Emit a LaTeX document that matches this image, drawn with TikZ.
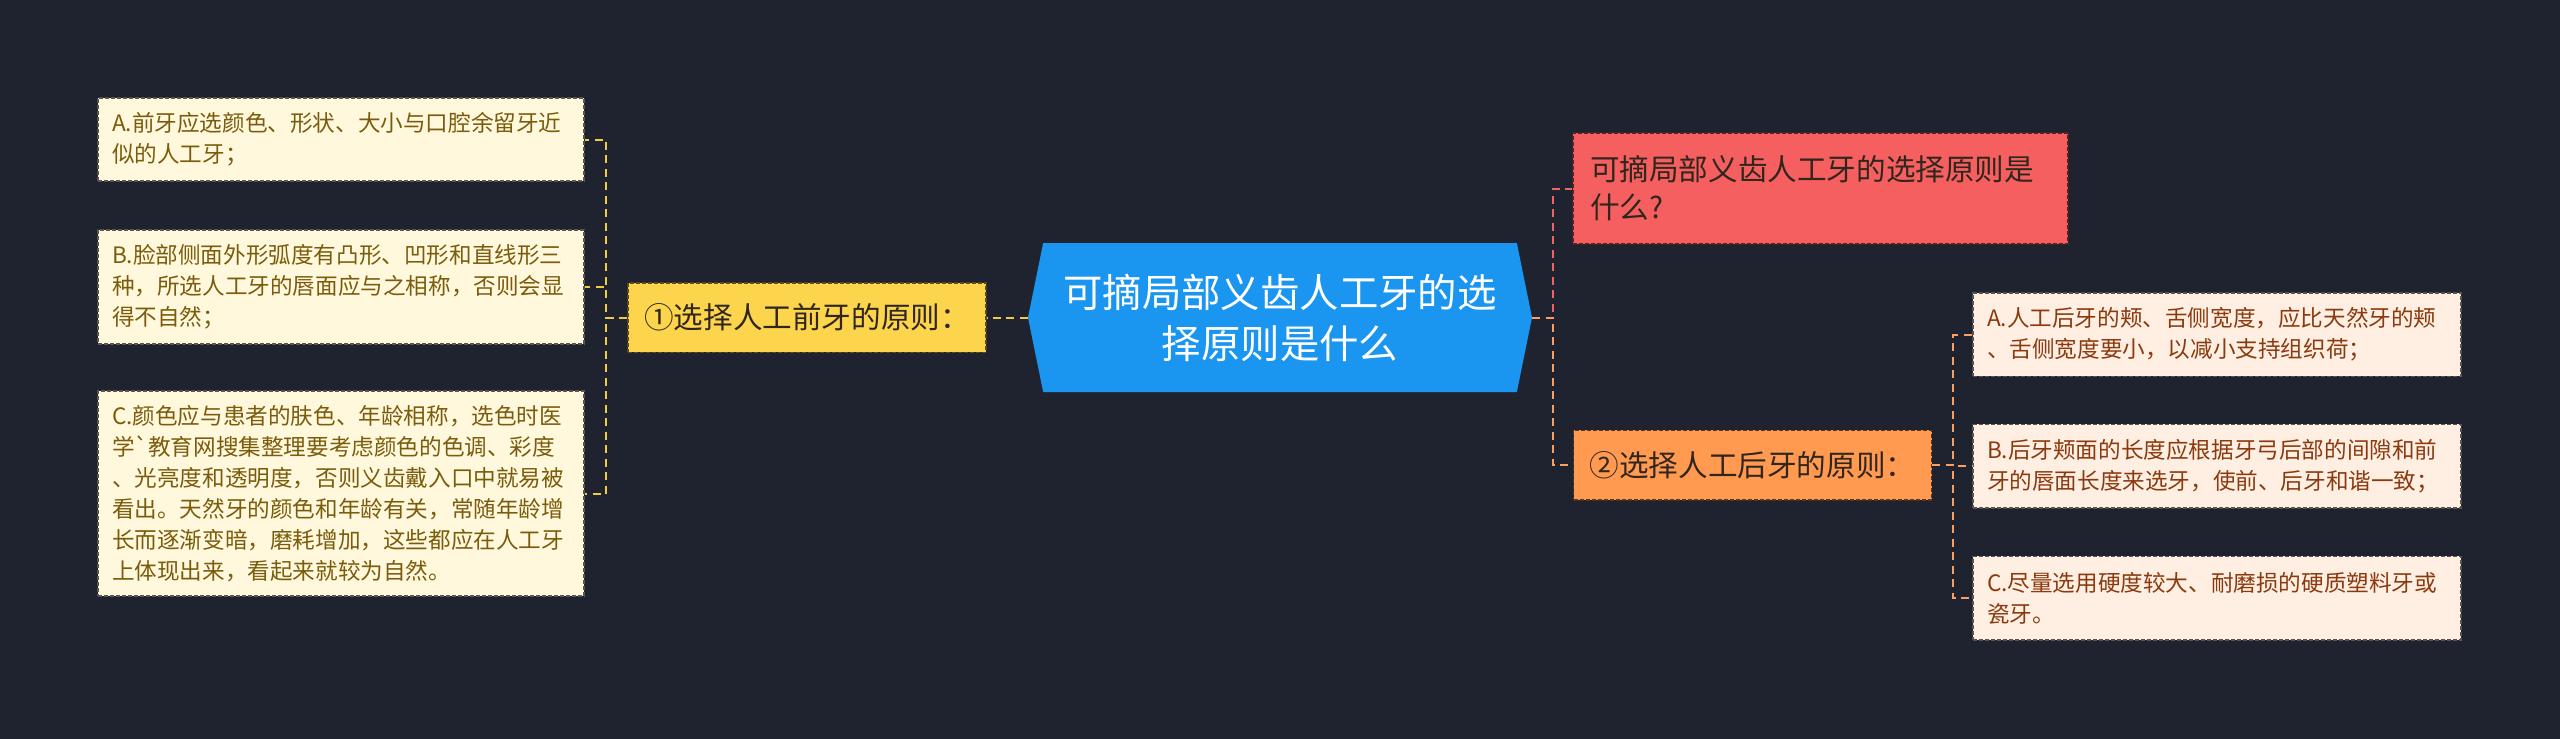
\documentclass[tikz,border=0pt]{standalone}
\usepackage{fontspec}
\setmainfont{Noto Sans CJK SC}[Ligatures=TeXOff]
\usetikzlibrary{shapes.symbols}

\definecolor{bgdark}{HTML}{1F2330}
\definecolor{leftfill}{HTML}{FFF8DC}
\definecolor{lefttext}{HTML}{7A5C0C}
\definecolor{leftline}{HTML}{F2CB45}
\definecolor{yelfill}{HTML}{FDD54D}
\definecolor{rootblue}{HTML}{1A96F0}
\definecolor{redfill}{HTML}{F55F5F}
\definecolor{redline}{HTML}{EE6464}
\definecolor{orgfill}{HTML}{FF9A50}
\definecolor{orgline}{HTML}{F7A062}
\definecolor{rightfill}{HTML}{FFEEE2}
\definecolor{righttext}{HTML}{8A3A0E}
\definecolor{darktext}{HTML}{30261E}

\begin{document}
\begin{tikzpicture}[x=0.5pt, y=-0.5pt,
	boxline/.style = {draw=#1!35!black, dash pattern=on 2pt off 1pt, line width=0.75pt},
	lbox/.style = {boxline=leftfill, fill=leftfill, text=lefttext, align=left,
		font=\fontsize{11.3}{15.5}\selectfont, text width=229pt, inner xsep=7pt, inner ysep=0pt, minimum height=#1},
	rbox/.style = {boxline=rightfill, fill=rightfill, text=righttext, align=left,
		font=\fontsize{11.3}{15.5}\selectfont, text width=230pt, inner xsep=7pt, inner ysep=0pt, minimum height=41.75pt},
	sub/.style = {boxline=#1, fill=#1, text=darktext, font=\fontsize{14.8}{19}\selectfont,
		minimum width=179pt, minimum height=34.75pt, inner sep=0pt},
	lline/.style = {leftline, line width=1pt, dash pattern=on 4pt off 2.75pt},
	rline/.style = {redline, line width=1pt, dash pattern=on 4pt off 2.75pt},
	oline/.style = {orgline, line width=1pt, dash pattern=on 4pt off 2.75pt}]
	\def\elbow{21}

	\fill[bgdark] (0, 0) rectangle (2560, 739);

	\node[signal, signal to=west and east, signal pointer angle=157, fill=rootblue, text=white,
		minimum width=252pt, minimum height=74.5pt, inner sep=0pt, align=center,
		font=\fontsize{19.7}{25.5}\selectfont] (root) at (1280, 317.5) {可摘局部义齿人工牙的选\\择原则是什么};

	\node[sub=yelfill] (front) at (807, 317.5) {①选择人工前牙的原则：};
	\node[lbox=41.5pt] (fa) at (341, 139.5) {A.前牙应选颜色、形状、大小与口腔余留牙近\\似的人工牙；};
	\node[lbox=57pt] (fb) at (341, 287) {B.脸部侧面外形弧度有凸形、凹形和直线形三\\种，所选人工牙的唇面应与之相称，否则会显\\得不自然；};
	\node[lbox=102.5pt] (fc) at (341, 493.5) {C.颜色应与患者的肤色、年龄相称，选色时医\\学`教育网搜集整理要考虑颜色的色调、彩度\\、光亮度和透明度，否则义齿戴入口中就易被\\看出。天然牙的颜色和年龄有关，常随年龄增\\长而逐渐变暗，磨耗增加，这些都应在人工牙\\上体现出来，看起来就较为自然。};

	\node[boxline=redfill, fill=redfill, text=darktext, align=left, font=\fontsize{14.8}{19}\selectfont,
		text width=230.5pt, inner xsep=8.5pt, inner ysep=0pt, minimum height=55.5pt] (q) at (1820.5, 188.5) {可摘局部义齿人工牙的选择原则是\\什么?};
	\node[sub=orgfill] (back) at (1752.5, 465) {②选择人工后牙的原则：};
	\node[rbox] (ba) at (2217, 334.5) {A.人工后牙的颊、舌侧宽度，应比天然牙的颊\\、舌侧宽度要小，以减小支持组织荷；};
	\node[rbox] (bb) at (2217, 466) {B.后牙颊面的长度应根据牙弓后部的间隙和前\\牙的唇面长度来选牙，使前、后牙和谐一致；};
	\node[rbox] (bc) at (2217, 598) {C.尽量选用硬度较大、耐磨损的硬质塑料牙或\\瓷牙。};

	\draw[lline] (root.west) -- (front.east);
	\foreach \leaf in {fa, fb, fc}
		\draw[lline] (front.west) -- ++(-\elbow, 0) |- (\leaf.east);
	\draw[rline] (root.east) -- ++(\elbow, 0) |- (q.west);
	\draw[oline] (root.east) -- ++(\elbow, 0) |- (back.west);
	\foreach \leaf in {ba, bb, bc}
		\draw[oline] (back.east) -- ++(\elbow, 0) |- (\leaf.west);
\end{tikzpicture}
\end{document}
